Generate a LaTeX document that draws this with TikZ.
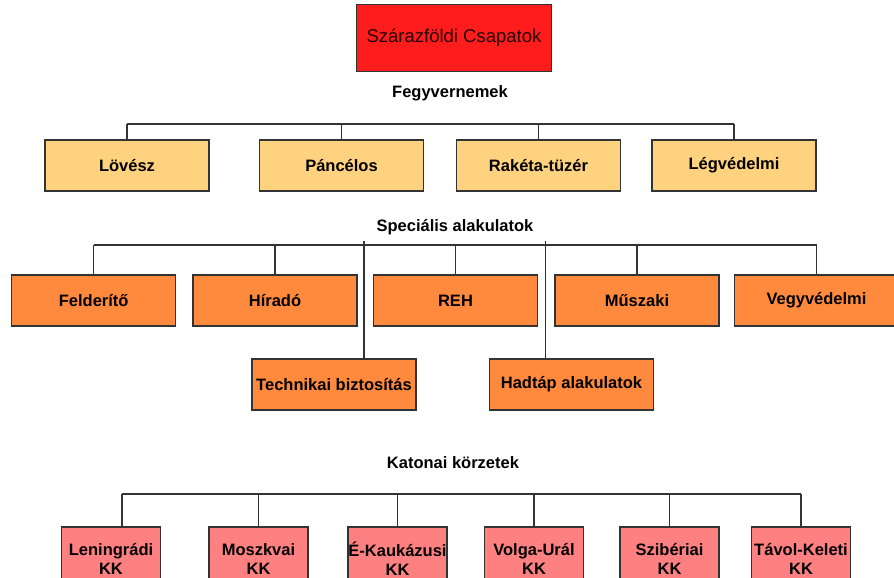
\documentclass[tikz,border=0pt]{standalone}
\usepackage{fontspec}
\setmainfont{Liberation Sans}
\usepackage{xcolor}
\definecolor{topred}{HTML}{FF1C1C}
\definecolor{fegyv}{HTML}{FFD27F}
\definecolor{spec}{HTML}{FF8A3D}
\definecolor{korzet}{HTML}{FF8080}
\definecolor{vonal}{HTML}{333333}
\tikzset{
	box/.style={draw=vonal, line width=1.3pt, inner sep=0pt, align=center,
		font=\fontsize{16.5}{19}\selectfont\bfseries},
	fbox/.style={box, fill=fegyv, minimum width=164pt, minimum height=51pt},
	sbox/.style={box, fill=spec, minimum width=164pt, minimum height=51pt},
	kbox/.style={box, fill=korzet, minimum width=99pt, minimum height=64pt},
	lbl/.style={font=\fontsize{16.5}{19}\selectfont\bfseries, inner sep=2pt},
	conn/.style={draw=vonal, line width=1.2pt}
}

\begin{document}
\begin{tikzpicture}[x=1pt,y=-1pt]
			\clip (0,0) rectangle (894,578);

			\node[box, fill=topred, minimum width=195pt, minimum height=67pt,
				text=black!85!red, font=\fontsize{18.5}{22}\selectfont] (top) at (454,38) {Szárazföldi Csapatok};

			% Fegyvernemek
			\node[lbl] (fegyv) at (450,93) {Fegyvernemek};
			\node[fbox] (F1) at (127,165.5) {Lövész};
			\node[fbox] (F2) at (341.5,165.5) {Páncélos};
			\node[fbox] (F3) at (538.5,165.5) {Rakéta-tüzér};
			\node[fbox] (F4) at (734,165.5) {Légvédelmi};
			\coordinate (FB) at (0,124);

			\draw[conn] (F1.north |- FB) -- (F4.north |- FB);
			\foreach \n in {F1,F2,F3,F4}
			\draw[conn] (\n.north) -- (\n.north |- FB);

			% Speciális alakulatok
			\node[lbl] (spec) at (455,227) {Speciális alakulatok};
			\node[sbox] (S1) at (93.7,300.5) {Felderítő};
			\node[sbox] (S2) at (275,300.5) {Híradó};
			\node[sbox] (S3) at (455.5,300.5) {REH};
			\node[sbox] (S4) at (637,300.5) {Műszaki};
			\node[sbox] (S5) at (816.5,300.5) {Vegyvédelmi};
			\node[sbox] (S6) at (334,384.5) {Technikai biztosítás};
			\node[sbox] (S7) at (571.5,384.5) {Hadtáp alakulatok};
			\coordinate (SB) at (0,245);
			\coordinate (ST) at (0,241);

			\draw[conn] (S1.north |- SB) -- (S5.north |- SB);
			\foreach \n in {S1,S2,S3,S4,S5}
			\draw[conn] (\n.north) -- (\n.north |- SB);
			\draw[conn] ([xshift=30pt]S6.north) -- ([xshift=30pt]S6.north |- ST);
			\draw[conn] ([xshift=-26pt]S7.north) -- ([xshift=-26pt]S7.north |- ST);

			% Katonai körzetek
			\node[lbl] (kat) at (453,463) {Katonai körzetek};
			\node[kbox] (K1) at (111,559) {Leningrádi\\KK};
			\node[kbox] (K2) at (258.5,559) {Moszkvai\\KK};
			\node[kbox] (K3) at (397.5,559) {É-Kaukázusi\\KK};
			\node[kbox] (K4) at (534,559) {Volga-Urál\\KK};
			\node[kbox] (K5) at (669.5,559) {Szibériai\\KK};
			\node[kbox] (K6) at (801,559) {Távol-Keleti\\KK};
			\coordinate (KB) at (0,494);

			\draw[conn] ([xshift=11pt]K1.north |- KB) -- (K6.north |- KB);
			\draw[conn] ([xshift=11pt]K1.north) -- ([xshift=11pt]K1.north |- KB);
			\foreach \n in {K2,K3,K4,K5,K6}
			\draw[conn] (\n.north) -- (\n.north |- KB);
		\end{tikzpicture}
\end{document}
